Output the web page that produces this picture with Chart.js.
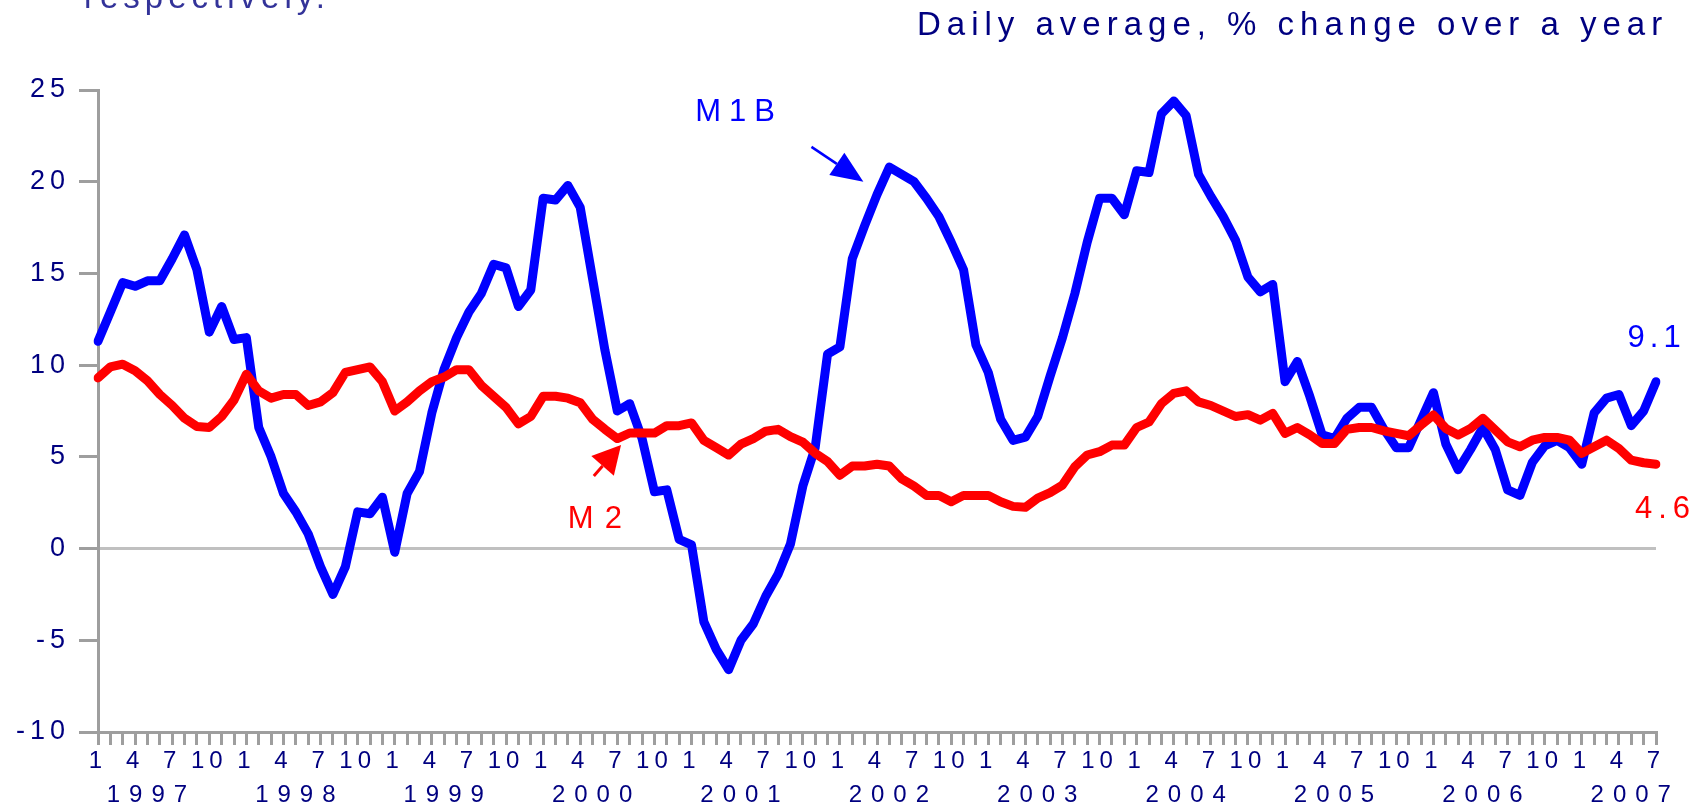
<!DOCTYPE html>
<html>
<head>
<meta charset="utf-8">
<title>M1B y M2</title>
<script src="https://cdn.jsdelivr.net/npm/chart.js@4.4.1/dist/chart.umd.min.js"></script>
<style>
    html, body { margin: 0; padding: 0; background: #ffffff; }
    canvas { display: block; }
</style>
</head>
<body>
<canvas id="graficoCanvas" width="1702" height="809"></canvas>
<script>
// Datos: promedio diario, % de cambio anual (enero 1997 - julio 2007)
const years = [1997, 1998, 1999, 2000, 2001, 2002, 2003, 2004, 2005, 2006, 2007];
const monthTicks = [1, 4, 7, 10];
const yearLabelMonth = 5;
const lastMonth = 7;

const m1b = [
    11.3, 12.9, 14.5, 14.3, 14.6, 14.6, 15.8, 17.1, 15.2, 11.8, 13.2, 11.4,   // 1997
    11.5, 6.6, 5.0, 3.0, 2.0, 0.8, -1.0, -2.5, -1.0, 2.0, 1.9, 2.8,           // 1998
    -0.2, 3.0, 4.2, 7.4, 9.8, 11.5, 12.9, 13.9, 15.5, 15.3, 13.2, 14.1,       // 1999
    19.1, 19.0, 19.8, 18.6, 14.7, 10.8, 7.5, 7.9, 6.0, 3.1, 3.2, 0.5,         // 2000
    0.2, -4.0, -5.5, -6.6, -5.0, -4.1, -2.6, -1.4, 0.25, 3.4, 5.5, 10.6,      // 2001
    11.0, 15.8, 17.6, 19.3, 20.8, 20.4, 20.0, 19.1, 18.1, 16.7, 15.2, 11.1,   // 2002
    9.6, 7.05, 5.9, 6.07, 7.2, 9.4, 11.5, 13.9, 16.7, 19.1, 19.1, 18.2,       // 2003
    20.6, 20.5, 23.7, 24.4, 23.6, 20.4, 19.2, 18.1, 16.8, 14.8, 14.0, 14.4,   // 2004
    9.1, 10.2, 8.3, 6.2, 6.0, 7.1, 7.7, 7.7, 6.5, 5.5, 5.5, 7.0,              // 2005
    8.5, 5.7, 4.3, 5.4, 6.6, 5.4, 3.2, 2.9, 4.7, 5.6, 5.9, 5.5,               // 2006
    4.6, 7.4, 8.2, 8.4, 6.7, 7.5, 9.1                                         // 2007
];

const m2 = [
    9.3, 9.9, 10.05, 9.7, 9.15, 8.4, 7.8, 7.1, 6.65, 6.6, 7.2, 8.1,           // 1997
    9.5, 8.6, 8.2, 8.4, 8.4, 7.8, 8.0, 8.5, 9.6, 9.75, 9.9, 9.1,              // 1998
    7.5, 8.0, 8.6, 9.1, 9.35, 9.75, 9.75, 8.9, 8.3, 7.7, 6.8, 7.2,            // 1999
    8.3, 8.3, 8.2, 7.95, 7.05, 6.5, 6.0, 6.3, 6.3, 6.3, 6.7, 6.7,             // 2000
    6.85, 5.9, 5.5, 5.1, 5.7, 6.0, 6.4, 6.5, 6.1, 5.8, 5.2, 4.75,             // 2001
    4.0, 4.5, 4.5, 4.6, 4.5, 3.8, 3.4, 2.9, 2.9, 2.55, 2.9, 2.9,              // 2002
    2.9, 2.55, 2.3, 2.25, 2.75, 3.05, 3.46, 4.46, 5.1, 5.28, 5.64, 5.64,      // 2003
    6.6, 6.9, 7.9, 8.46, 8.6, 8.0, 7.8, 7.5, 7.2, 7.3, 7.0, 7.37,             // 2004
    6.28, 6.6, 6.2, 5.73, 5.73, 6.5, 6.6, 6.6, 6.42, 6.28, 6.15, 6.73,        // 2005
    7.28, 6.55, 6.19, 6.55, 7.1, 6.46, 5.82, 5.55, 5.91, 6.06, 6.06, 5.91,    // 2006
    5.19, 5.55, 5.91, 5.46, 4.82, 4.68, 4.6                                   // 2007
];

const yMin = -10;
const yMax = 25;
const yStep = 5;

// etiquetas del eje x: mes (1, 4, 7, 10) y año debajo
const monthLabels = [];
const yearLabels = [];
years.forEach((year, k) => {
    const months = k === years.length - 1 ? lastMonth : 12;
    for (let m = 1; m <= months; m++) {
        monthLabels.push(monthTicks.includes(m) ? String(m) : '');
        yearLabels.push(m === yearLabelMonth ? String(year) : '');
    }
});

const fuente = '"Liberation Sans", Arial, sans-serif';
const azulOscuro = '#000080';
const gris = '#9e9e9e';

// el canvas acepta letterSpacing; los rótulos del original van muy espaciados
const espaciado = {
    id: 'espaciado',
    beforeDraw(chart) {
        chart.ctx.letterSpacing = '5px';
    },
    beforeDatasetsDraw(chart) {
        chart.ctx.letterSpacing = '0px';
    },
    afterDatasetsDraw(chart) {
        chart.ctx.letterSpacing = '9px';
    }
};

function flecha(ctx, x0, y0, x1, y1, color, grosor, largo, ancho) {
    const ang = Math.atan2(y1 - y0, x1 - x0);
    const bx = x1 - largo * Math.cos(ang);
    const by = y1 - largo * Math.sin(ang);
    ctx.strokeStyle = color;
    ctx.fillStyle = color;
    ctx.lineWidth = grosor;
    ctx.beginPath();
    ctx.moveTo(x0, y0);
    ctx.lineTo(bx, by);
    ctx.stroke();
    ctx.beginPath();
    ctx.moveTo(x1, y1);
    ctx.lineTo(bx + ancho * Math.sin(ang), by - ancho * Math.cos(ang));
    ctx.lineTo(bx - ancho * Math.sin(ang), by + ancho * Math.cos(ang));
    ctx.closePath();
    ctx.fill();
}

function texto(ctx, str, x, y, color, size, spacing) {
    ctx.font = size + 'px ' + fuente;
    ctx.letterSpacing = spacing + 'px';
    ctx.fillStyle = color;
    ctx.textAlign = 'left';
    ctx.textBaseline = 'alphabetic';
    ctx.fillText(str, x, y);
}

// rótulos y flechas, colocados en coordenadas de datos (índice de mes, %)
const anotaciones = {
    id: 'anotaciones',
    afterDraw(chart) {
        const ctx = chart.ctx;
        const xs = chart.scales.x;
        const ys = chart.scales.y;
        const px = i => xs.getPixelForValue(i);
        const py = v => ys.getPixelForValue(v);
        const n = m1b.length - 1;

        ctx.save();
        texto(ctx, 'respectively.', 84, 8, '#333399', 33, 5);
        texto(ctx, 'Daily average, % change over a year', 917, 35, azulOscuro, 33, 6);

        texto(ctx, 'M1B', px(48.3), py(23.3), '#0000ff', 31, 8);
        flecha(ctx, px(57.7), py(21.9), px(61.9), py(20.0), '#0000ff', 2.5, 32, 13.5);

        texto(ctx, 'M2', px(38.0), py(1.1), '#ff0000', 31, 11);
        flecha(ctx, px(40.1), py(3.96), px(42.3), py(5.65), '#ff0000', 3, 28, 15);

        texto(ctx, m1b[n].toFixed(1), px(n - 2.3), py(11.0), '#0000ff', 31, 5);
        texto(ctx, m2[n].toFixed(1), px(n - 1.7), py(1.66), '#ff0000', 31, 6);
        ctx.restore();
    }
};

new Chart(document.getElementById('graficoCanvas').getContext('2d'), {
    type: 'line',
    data: {
        labels: monthLabels,
        datasets: [{
            label: 'M2',
            data: m2,
            borderColor: '#ff0000',
            borderWidth: 9,
            borderJoinStyle: 'round',
            borderCapStyle: 'round',
            pointRadius: 0,
            tension: 0,
            fill: false,
            order: 0
        }, {
            label: 'M1B',
            data: m1b,
            borderColor: '#0000ff',
            borderWidth: 9,
            borderJoinStyle: 'round',
            borderCapStyle: 'round',
            pointRadius: 0,
            tension: 0,
            fill: false,
            order: 1
        }]
    },
    options: {
        responsive: false,
        animation: false,
        devicePixelRatio: 1,
        events: [],
        layout: {
            padding: { top: 90, right: 46, bottom: 0, left: 0 }
        },
        plugins: {
            legend: { display: false },
            tooltip: { enabled: false },
            title: { display: false }
        },
        scales: {
            x: {
                type: 'category',
                position: 'bottom',
                offset: false,
                weight: 0,
                afterFit(scale) { scale.height = 44; },
                grid: {
                    drawOnChartArea: false,
                    color: gris,
                    lineWidth: 3,
                    tickLength: 13
                },
                border: { color: gris, width: 3 },
                ticks: {
                    autoSkip: false,
                    maxRotation: 0,
                    minRotation: 0,
                    padding: 2,
                    color: azulOscuro,
                    font: { family: fuente, size: 24 }
                }
            },
            years: {
                type: 'category',
                position: 'bottom',
                labels: yearLabels,
                offset: false,
                weight: 1,
                afterFit(scale) { scale.height = 33; },
                grid: { display: false, drawTicks: false },
                border: { display: false },
                ticks: {
                    z: 1,
                    autoSkip: false,
                    maxRotation: 0,
                    minRotation: 0,
                    padding: 5,
                    labelOffset: 4,
                    color: azulOscuro,
                    font: { family: fuente, size: 24 }
                }
            },
            y: {
                type: 'linear',
                position: 'left',
                min: yMin,
                max: yMax,
                afterFit(scale) { scale.width = 98; },
                grid: {
                    color: c => (c.tick && c.tick.value === 0 ? '#c0c0c0' : 'rgba(0,0,0,0)'),
                    lineWidth: 3,
                    tickColor: gris,
                    tickWidth: 3,
                    tickLength: 19
                },
                border: { color: gris, width: 3 },
                ticks: {
                    stepSize: yStep,
                    padding: 9,
                    color: azulOscuro,
                    font: { family: fuente, size: 27 }
                }
            }
        }
    },
    plugins: [espaciado, anotaciones]
});
</script>
</body>
</html>
